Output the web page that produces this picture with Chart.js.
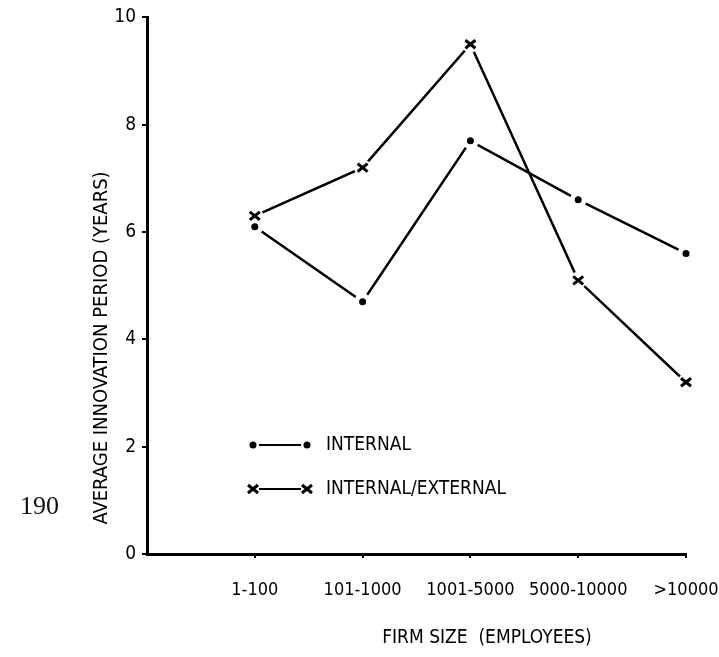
<!DOCTYPE html>
<html lang="en">
<head>
  <meta charset="UTF-8" />
  <title>Innovation period by firm size</title>
  <script src="https://cdn.jsdelivr.net/npm/chart.js@4"></script>
  <style>
    body { margin: 0; background: #fff; }
    .wrap { position: relative; width: 719px; height: 657px; }
    .page {
      position: absolute; left: 20px; top: 491px;
      font-family: 'Liberation Serif', serif; font-size: 26px; color: #111;
    }
  </style>
</head>
<body>
  <div class="wrap">
    <canvas id="chart" width="719" height="657"></canvas>
    <div class="page">190</div>
  </div>

  <script>
    const categories = ['1-100', '101-1000', '1001-5000', '5000-10000', '>10000'];
    const internal = [6.1, 4.7, 7.7, 6.6, 5.6];
    const internalExternal = [6.3, 7.2, 9.5, 5.1, 3.2];
    const yTicks = [0, 2, 4, 6, 8, 10];

    const FONT = "'Liberation Sans Narrow', 'DejaVu Sans Condensed', 'Arial Narrow', sans-serif";
    const INK = '#000';

    function drawMarker(ctx, style, x, y) {
      ctx.save();
      ctx.fillStyle = INK;
      ctx.strokeStyle = INK;
      if (style === 'dot') {
        ctx.beginPath();
        ctx.arc(x, y, 3.5, 0, Math.PI * 2);
        ctx.fill();
      } else {
        ctx.lineWidth = 3;
        ctx.beginPath();
        ctx.moveTo(x - 5, y - 4); ctx.lineTo(x + 5, y + 4);
        ctx.moveTo(x - 5, y + 4); ctx.lineTo(x + 5, y - 4);
        ctx.stroke();
      }
      ctx.restore();
    }

    // points sit in a small white gap, like the original plot
    const markers = {
      id: 'markers',
      afterDatasetsDraw(chart) {
        const ctx = chart.ctx;
        ctx.save();
        ctx.fillStyle = '#fff';
        chart.data.datasets.forEach((ds, i) => {
          chart.getDatasetMeta(i).data.forEach(p => {
            ctx.beginPath();
            ctx.arc(p.x, p.y, 8.5, 0, Math.PI * 2);
            ctx.fill();
          });
        });
        ctx.restore();
        chart.data.datasets.forEach((ds, i) => {
          chart.getDatasetMeta(i).data.forEach(p => drawMarker(ctx, ds.marker, p.x, p.y));
        });
      }
    };

    const labels = {
      id: 'labels',
      afterDraw(chart) {
        const ctx = chart.ctx;
        ctx.save();
        ctx.fillStyle = INK;
        ctx.font = '19px ' + FONT;
        ctx.textBaseline = 'middle';

        // legend inside the plot
        chart.data.datasets.forEach((ds, i) => {
          const y = 445 + i * 44;
          ctx.strokeStyle = INK;
          ctx.lineWidth = 2;
          ctx.beginPath();
          ctx.moveTo(259, y); ctx.lineTo(301, y);
          ctx.stroke();
          drawMarker(ctx, ds.marker, 253, y);
          drawMarker(ctx, ds.marker, 307, y);
          ctx.textAlign = 'left';
          ctx.fillText(ds.label, 326, y);
        });

        // axis titles
        ctx.textAlign = 'center';
        ctx.fillText('FIRM SIZE  (EMPLOYEES)', 487, 638);
        ctx.font = '20px ' + FONT;
        ctx.translate(102, 348);
        ctx.rotate(-Math.PI / 2);
        ctx.fillText('AVERAGE INNOVATION PERIOD (YEARS)', 0, 0);
        ctx.restore();
      }
    };

    new Chart(document.getElementById('chart'), {
      type: 'line',
      data: {
        datasets: [
          {
            label: 'INTERNAL',
            marker: 'dot',
            data: internal.map((v, i) => ({ x: i + 1, y: v })),
            borderColor: INK,
            borderWidth: 2.5,
            pointRadius: 0,
            tension: 0
          },
          {
            label: 'INTERNAL/EXTERNAL',
            marker: 'cross',
            data: internalExternal.map((v, i) => ({ x: i + 1, y: v })),
            borderColor: INK,
            borderWidth: 2.5,
            pointRadius: 0,
            tension: 0
          }
        ]
      },
      options: {
        responsive: false,
        animation: false,
        layout: { padding: { top: 14, right: 33, left: 0, bottom: 0 } },
        plugins: { legend: { display: false }, tooltip: { enabled: false } },
        scales: {
          x: {
            type: 'linear',
            min: 0,
            max: 5,
            afterBuildTicks: s => { s.ticks = categories.map((c, i) => ({ value: i + 1 })); },
            ticks: {
              callback: v => categories[v - 1] || '',
              autoSkip: false,
              maxRotation: 0,
              padding: 22,
              color: INK,
              font: { family: FONT, size: 18 }
            },
            grid: { drawOnChartArea: false, tickLength: 4, color: INK, lineWidth: 2 },
            border: { color: INK, width: 3 },
            afterFit: s => { s.height = 103; s.paddingLeft = 0; s.paddingRight = 0; }
          },
          y: {
            min: 0,
            max: 10,
            afterBuildTicks: s => { s.ticks = yTicks.map(v => ({ value: v })); },
            ticks: { color: INK, padding: 6, font: { family: FONT, size: 19 } },
            grid: { drawOnChartArea: false, tickLength: 5, color: INK, lineWidth: 2 },
            border: { color: INK, width: 3 },
            afterFit: s => { s.width = 147; }
          }
        }
      },
      plugins: [markers, labels]
    });
  </script>
</body>
</html>
